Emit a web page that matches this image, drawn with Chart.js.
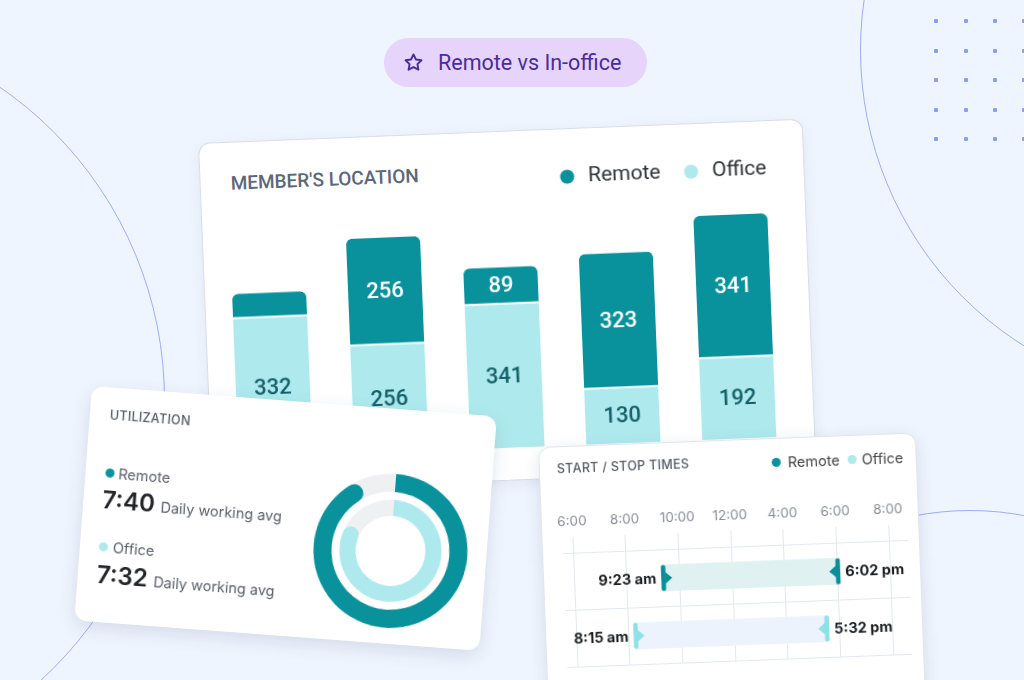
<!DOCTYPE html>
<html>
<head>
<meta charset="utf-8">
<script src="https://cdn.jsdelivr.net/npm/chart.js@4.4.1/dist/chart.umd.min.js"></script>
<style>
  body { margin: 0; width: 1024px; height: 680px; overflow: hidden; background: #eff5fe; position: relative; font-family: Roboto, sans-serif; }
  .ring { position: absolute; border-radius: 50%; border: 1.5px solid #9eacf7; box-sizing: border-box; }
  .dot-grid { position: absolute; width: 4px; height: 4px; background: #8c9cf4; border-radius: 1px; }
  .pill { position: absolute; left: 384px; top: 38px; width: 263px; height: 49px; border-radius: 25px; background: #e6d4fb; }
  .pill span { position: absolute; left: 54px; top: 12px; font-size: 21.5px; line-height: 25px; color: #4a2c9c; }
  .pill svg { position: absolute; left: 19px; top: 14px; }
  .card { position: absolute; background: #fff; border-radius: 12px; transform-origin: 0 0; overflow: hidden; }
  #main { left: 198px; top: 143px; width: 605px; height: 350px; transform: rotate(-2.3deg); border: 1px solid #d9dee8; box-sizing: border-box; box-shadow: 0 4px 14px rgba(40, 60, 110, 0.07); }
  #main .title { position: absolute; left: 30px; top: 30px; font-size: 19px; line-height: 22px; font-weight: 500; color: #5d6779; }
  #util { left: 92px; top: 386px; width: 406px; height: 235px; transform: rotate(4.3deg); box-shadow: 0 6px 18px rgba(30, 45, 90, 0.13); font-family: Inter, sans-serif; }
  #times { left: 538px; top: 447px; width: 378px; height: 270px; transform: rotate(-2.2deg); box-shadow: 0 4px 16px rgba(30, 45, 90, 0.12); border: 1px solid #e1e5ec; box-sizing: border-box; font-family: Inter, sans-serif; }
  .small-title { position: absolute; font-size: 12.5px; line-height: 16px; font-weight: 500; color: #555b64; letter-spacing: 0.3px; }
  .dot { position: absolute; width: 9px; height: 9px; border-radius: 50%; }
  .lbl { position: absolute; font-size: 14.5px; line-height: 18px; color: #5b616a; }
  .avg { position: absolute; display: flex; align-items: baseline; gap: 6px; }
  .avg b { font-size: 24px; font-weight: 600; color: #232427; line-height: 28px; }
  .avg span { font-size: 14.5px; color: #5b616a; }
</style>
</head>
<body>
<div class="ring" style="left:-595px;top:20px;width:760px;height:760px;"></div>
<div class="ring" style="left:860px;top:-300px;width:700px;height:700px;"></div>
<div class="ring" style="left:680px;top:510px;width:580px;height:580px;"></div>
<div id="dots"></div>

<div class="pill">
  <svg width="21" height="21" viewBox="0 0 24 24"><path d="M12 2.8l2.8 5.8 6.3.9-4.6 4.4 1.1 6.3L12 17.2l-5.6 3 1.1-6.3L2.9 9.5l6.3-.9z" fill="none" stroke="#4a2c9c" stroke-width="2.2" stroke-linejoin="round"/></svg>
  <span>Remote vs In-office</span>
</div>

<div id="main" class="card">
  <div class="title">MEMBER'S LOCATION</div>
  <div style="position:absolute;left:0;top:0;width:605px;height:316px;"><canvas id="locationChart"></canvas></div>
</div>

<div id="util" class="card">
  <div class="small-title" style="left:20px;top:20px;">UTILIZATION</div>
  <div class="dot" id="uDot0" style="left:20px;top:81px;"></div>
  <div class="lbl" id="uLbl0" style="left:33px;top:77px;"></div>
  <div class="avg" style="left:19px;top:99px;"><b id="uAvg0"></b><span>Daily working avg</span></div>
  <div class="dot" id="uDot1" style="left:19px;top:155px;"></div>
  <div class="lbl" id="uLbl1" style="left:33px;top:151px;"></div>
  <div class="avg" style="left:19px;top:174px;"><b id="uAvg1"></b><span>Daily working avg</span></div>
  <div style="position:absolute;left:230px;top:62px;width:160px;height:160px;"><canvas id="utilChart"></canvas></div>
</div>

<div id="times" class="card">
  <div class="small-title" style="left:17px;top:14px;">START / STOP TIMES</div>
  <div class="dot" id="tDot0" style="left:232px;top:19px;"></div>
  <div class="lbl" id="tLbl0" style="left:248px;top:15px;color:#444;"></div>
  <div class="dot" id="tDot1" style="left:308px;top:19px;"></div>
  <div class="lbl" id="tLbl1" style="left:322px;top:15px;color:#444;"></div>
  <div style="position:absolute;left:0;top:40px;width:378px;height:200px;"><canvas id="timesChart"></canvas></div>
</div>

<script>
// member's location (stacked bars)
const memberGroups = ['Team A', 'Team B', 'Team C', 'Team D', 'Team E'];
const remoteMembers = [60, 256, 89, 323, 341];
const officeMembers = [332, 256, 341, 130, 192];

// utilization rings
const utilLabels = ['Remote', 'Office'];
const dailyAvg = ['7:40', '7:32'];
const ringShare = [92, 83]; // % of ring filled

// start / stop times
const timeTickLabels = ['6:00', '8:00', '10:00', '12:00', '4:00', '6:00', '8:00'];
const timeTickHours = [6, 8, 10, 12, 16, 18, 20];
const timeRows = ['Remote', 'Office'];
const startTimes = ['09:23', '08:15'];
const stopTimes = ['18:02', '17:32'];

const TEAL = '#0a929c';
const LIGHT = '#aeeaed';

Chart.defaults.animation = false;
Chart.defaults.plugins.tooltip.enabled = false;

// dots in the corner
const dotsEl = document.getElementById('dots');
[936, 966, 995, 1024].forEach(x => {
    [21, 51, 80, 110, 139].forEach(y => {
        const d = document.createElement('div');
        d.className = 'dot-grid';
        d.style.left = (x - 2) + 'px';
        d.style.top = (y - 2) + 'px';
        dotsEl.appendChild(d);
    });
});

const valueLabels = {
    id: 'valueLabels',
    afterDatasetsDraw(chart) {
        const ctx = chart.ctx;
        ctx.save();
        ctx.font = '500 22px Roboto';
        ctx.textAlign = 'center';
        ctx.textBaseline = 'middle';
        chart.data.datasets.forEach((ds, i) => {
            chart.getDatasetMeta(i).data.forEach((bar, j) => {
                if (Math.abs(bar.base - bar.y) < 30) return;
                ctx.fillStyle = ds.labelColor;
                ctx.fillText(ds.data[j], bar.x, (bar.y + bar.base) / 2 + 1);
            });
        });
        ctx.restore();
    }
};

new Chart(document.getElementById('locationChart'), {
    type: 'bar',
    data: {
        labels: memberGroups,
        datasets: [
            {
                label: 'Office',
                data: officeMembers,
                backgroundColor: LIGHT,
                labelColor: '#155f68'
            },
            {
                label: 'Remote',
                data: remoteMembers,
                backgroundColor: TEAL,
                borderColor: '#ffffff',
                borderWidth: { top: 0, left: 0, right: 0, bottom: 2 },
                borderSkipped: false,
                borderRadius: { topLeft: 6, topRight: 6, bottomLeft: 0, bottomRight: 0 },
                labelColor: '#ffffff'
            }
        ]
    },
    options: {
        responsive: true,
        maintainAspectRatio: false,
        barPercentage: 0.64,
        categoryPercentage: 1,
        layout: { padding: { top: 17, left: 6, right: 19, bottom: 0 } },
        plugins: {
            legend: {
                position: 'top',
                align: 'end',
                reverse: true,
                labels: {
                    usePointStyle: true,
                    pointStyle: 'circle',
                    boxHeight: 10,
                    padding: 20,
                    color: '#2f3237',
                    font: { family: 'Roboto', size: 21 },
                    generateLabels: chart => Chart.defaults.plugins.legend.labels.generateLabels(chart)
                        .map(l => ({ ...l, lineWidth: 0, strokeStyle: 'rgba(0,0,0,0)' }))
                }
            }
        },
        scales: {
            x: { display: false, stacked: true },
            y: { display: false, stacked: true, min: 0, max: 590 }
        }
    },
    plugins: [valueLabels]
});

// utilization
utilLabels.forEach((name, i) => {
    document.getElementById('uLbl' + i).textContent = name;
    document.getElementById('uAvg' + i).textContent = dailyAvg[i];
    document.getElementById('uDot' + i).style.background = i === 0 ? TEAL : LIGHT;
});

const ringTrack = {
    id: 'ringTrack',
    beforeDatasetsDraw(chart) {
        const ctx = chart.ctx;
        chart.data.datasets.forEach((ds, i) => {
            if (!ds.track) return;
            const arc = chart.getDatasetMeta(i).data[0];
            ctx.save();
            ctx.beginPath();
            ctx.arc(arc.x, arc.y, arc.outerRadius, 0, Math.PI * 2);
            ctx.arc(arc.x, arc.y, arc.innerRadius, 0, Math.PI * 2, true);
            ctx.fillStyle = '#eff0f2';
            ctx.fill();
            ctx.restore();
        });
    }
};

const endCap = r => (c => c.dataIndex === 0 ? { outerStart: 0, innerStart: 0, outerEnd: r, innerEnd: r } : 0);

new Chart(document.getElementById('utilChart'), {
    type: 'doughnut',
    data: {
        labels: ['worked', 'rest'],
        datasets: [
            { data: [ringShare[0], 100 - ringShare[0]], backgroundColor: [TEAL, 'rgba(0,0,0,0)'], weight: 18, track: true, borderRadius: endCap(9) },
            { data: [1], backgroundColor: ['rgba(0,0,0,0)'], weight: 8 },
            { data: [ringShare[1], 100 - ringShare[1]], backgroundColor: [LIGHT, 'rgba(0,0,0,0)'], weight: 16, track: true, borderRadius: endCap(8) }
        ]
    },
    options: {
        responsive: true,
        maintainAspectRatio: false,
        cutout: 35,
        borderWidth: 0,
        layout: { padding: 3 },
        plugins: { legend: { display: false } }
    },
    plugins: [ringTrack]
});

// start / stop times
const rowFill = ['#dff1f1', '#edf3fc'];
const rowMarker = ['#0a8f99', '#8fe1e6'];

timeRows.forEach((name, i) => {
    document.getElementById('tLbl' + i).textContent = name;
    document.getElementById('tDot' + i).style.background = i === 0 ? TEAL : LIGHT;
});

function toHours(t) {
    const [h, m] = t.split(':').map(Number);
    return h + m / 60;
}

// place an hour on the tick axis (ticks are evenly spaced, hours are not)
function toAxis(t) {
    const h = toHours(t);
    for (let i = 0; i < timeTickHours.length - 1; i++) {
        if (h <= timeTickHours[i + 1]) {
            return i + (h - timeTickHours[i]) / (timeTickHours[i + 1] - timeTickHours[i]);
        }
    }
    return timeTickHours.length - 1;
}

function fmtTime(t) {
    const [h, m] = t.split(':').map(Number);
    return (h % 12 || 12) + ':' + String(m).padStart(2, '0') + (h < 12 ? ' am' : ' pm');
}

const flags = {
    id: 'flags',
    afterDatasetsDraw(chart) {
        const ctx = chart.ctx;
        ctx.save();
        ctx.font = '700 14.5px Inter';
        ctx.textBaseline = 'middle';
        chart.data.datasets.forEach((ds, i) => {
            chart.getDatasetMeta(i).data.forEach((bar, j) => {
                if (!ds.data[j]) return;
                const x0 = bar.base, x1 = bar.x, y = bar.y;
                ctx.fillStyle = ds.markerColor;
                ctx.beginPath();
                ctx.roundRect(x0 - 2, y - 13, 4.5, 26, 2);
                ctx.fill();
                ctx.beginPath();
                ctx.moveTo(x0 + 2, y - 6);
                ctx.lineTo(x0 + 9, y);
                ctx.lineTo(x0 + 2, y + 6);
                ctx.fill();
                ctx.beginPath();
                ctx.roundRect(x1 - 2.5, y - 13, 4.5, 26, 2);
                ctx.fill();
                ctx.beginPath();
                ctx.moveTo(x1 - 2, y - 6);
                ctx.lineTo(x1 - 9, y);
                ctx.lineTo(x1 - 2, y + 6);
                ctx.fill();

                ctx.fillStyle = '#1d1e20';
                ctx.textAlign = 'right';
                ctx.fillText(fmtTime(startTimes[i]), x0 - 7, y + 1);
                ctx.textAlign = 'left';
                ctx.fillText(fmtTime(stopTimes[i]), x1 + 7, y + 1);
            });
        });
        ctx.restore();
    }
};

new Chart(document.getElementById('timesChart'), {
    type: 'bar',
    data: {
        labels: timeRows,
        datasets: timeRows.map((name, i) => ({
            label: name,
            data: timeRows.map((_, j) => j === i ? [toAxis(startTimes[i]), toAxis(stopTimes[i])] : null),
            backgroundColor: rowFill[i],
            markerColor: rowMarker[i],
            borderWidth: 0,
            barThickness: 26,
            grouped: false
        }))
    },
    options: {
        indexAxis: 'y',
        responsive: true,
        maintainAspectRatio: false,
        layout: { padding: { top: 20, left: 20, right: 13, bottom: 20 } },
        plugins: { legend: { display: false } },
        scales: {
            x: {
                type: 'linear',
                position: 'top',
                min: -0.19,
                max: 6.36,
                ticks: {
                    stepSize: 1,
                    includeBounds: false,
                    padding: 7,
                    color: '#878c95',
                    font: { family: 'Inter', size: 13.5 },
                    callback: v => timeTickLabels[v]
                },
                grid: { color: '#e3e7ee', tickLength: 16 },
                border: { display: false }
            },
            y: {
                ticks: { display: false },
                grid: { color: '#e3e7ee', drawTicks: false, offset: true },
                border: { display: false }
            }
        }
    },
    plugins: [flags]
});
</script>
</body>
</html>
